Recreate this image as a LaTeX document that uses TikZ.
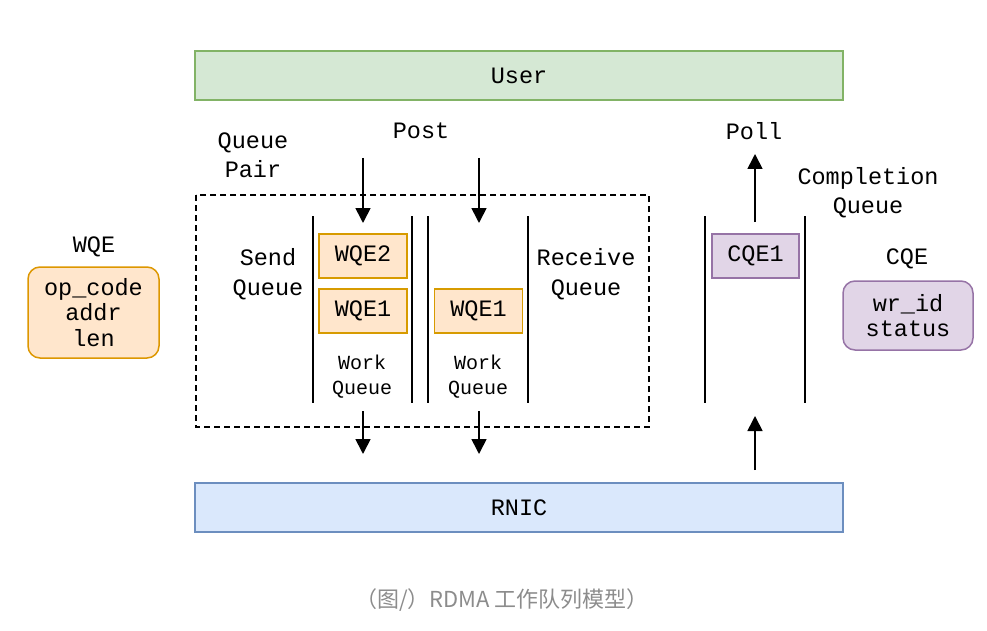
\documentclass[tikz,border=0pt]{standalone}
\usepackage{fontspec}
\setmainfont{Liberation Mono}
\newfontfamily\cjk{Noto Sans CJK SC}
\usetikzlibrary{arrows.meta}
\definecolor{ugreenf}{HTML}{D5E8D4}
\definecolor{ugreend}{HTML}{82B366}
\definecolor{ubluef}{HTML}{DAE8FC}
\definecolor{ublued}{HTML}{6C8EBF}
\definecolor{uorgf}{HTML}{FFE6CC}
\definecolor{uorgd}{HTML}{D79B00}
\definecolor{upurf}{HTML}{E1D5E7}
\definecolor{upurd}{HTML}{9673A6}
\definecolor{capgray}{HTML}{8C8C8C}
\newcommand\bigtxt{\fontsize{23.5}{29.5}\selectfont}
\newcommand\legtxt{\fontsize{23.5}{25.5}\selectfont}
\newcommand\smalltxt{\fontsize{20}{25}\selectfont}
\tikzset{
  bar/.style={draw, line width=1.5pt, minimum width=648pt, minimum height=49pt, inner sep=0pt, font=\bigtxt},
  wqebox/.style={draw=uorgd, fill=uorgf, line width=1.5pt, minimum width=88pt, minimum height=44pt, inner sep=0pt, font=\bigtxt},
  cqebox/.style={draw=upurd, fill=upurf, line width=1.5pt, minimum width=87pt, minimum height=44pt, inner sep=0pt, font=\bigtxt},
  lbl/.style={align=center, inner sep=0pt, font=\bigtxt},
  slbl/.style={align=center, inner sep=0pt, font=\smalltxt},
  qline/.style={line width=1.7pt},
  arr/.style={line width=1.7pt, -{Triangle[width=15pt,length=15pt]}},
  legend/.style={rounded corners=12pt, line width=1.5pt, align=center, inner sep=0pt, font=\legtxt},
}
\begin{document}
\begin{tikzpicture}[x=1pt,y=-1pt]
\useasboundingbox (0,0) rectangle (987,631);
% bars
\node[bar, draw=ugreend, fill=ugreenf] (user) at (519,75.5) {User};
\node[bar, draw=ublued, fill=ubluef] (rnic) at (519,507.5) {RNIC};
% queue pair dashed box
\draw[line width=1.5pt, dash pattern=on 6pt off 4pt] (196,195) rectangle (649,427);
% queue walls
\draw[qline] (313,216) -- (313,403);
\draw[qline] (412,216) -- (412,403);
\draw[qline] (428,216) -- (428,403);
\draw[qline] (528,216) -- (528,403);
\draw[qline] (705,216) -- (705,403);
\draw[qline] (805,216) -- (805,403);
% elements
\node[wqebox] (wqe2) at (363,256) {WQE2};
\node[wqebox] (wqe1s) at (363,311) {WQE1};
\node[wqebox] (wqe1r) at (478.5,311) {WQE1};
\node[cqebox] (cqe1) at (755.5,256) {CQE1};
% labels
\node[lbl] (qp) at (253,155.5) {Queue\\Pair};
\node[lbl] (post) at (421,131) {Post};
\node[lbl] (poll) at (754,131) {Poll};
\node[lbl] (cq) at (868,192.5) {Completion\\Queue};
\node[lbl] (sq) at (268,274) {Send\\Queue};
\node[lbl] (rq) at (586,274) {Receive\\Queue};
\node[slbl] (wq1) at (362,376.5) {Work\\Queue};
\node[slbl] (wq2) at (478,376.5) {Work\\Queue};
% legends
\node[lbl] (wqet) at (94,247) {WQE};
\node[legend, draw=uorgd!85!orange, fill=uorgf, minimum width=131pt, minimum height=91pt] (wqel) at (93.5,312.5) {op\_code\\addr\\len};
\node[lbl] (cqet) at (907,259) {CQE};
\node[legend, draw=upurd, fill=upurf, minimum width=130pt, minimum height=69pt] (cqel) at (908,315.5) {wr\_id\\status};
% arrows
\coordinate (p1s) at (363,158); \coordinate (p1e) at (363,223);
\coordinate (p2s) at (479,158); \coordinate (p2e) at (479,223);
\coordinate (d1s) at (363,411); \coordinate (d1e) at (363,454);
\coordinate (d2s) at (479,411); \coordinate (d2e) at (479,454);
\coordinate (c1s) at (755,470); \coordinate (c1e) at (755,416);
\coordinate (c2s) at (755,222); \coordinate (c2e) at (755,154);
\draw[arr] (p1s) -- (p1e);
\draw[arr] (p2s) -- (p2e);
\draw[arr] (d1s) -- (d1e);
\draw[arr] (d2s) -- (d2e);
\draw[arr] (c1s) -- (c1e);
\draw[arr] (c2s) -- (c2e);
% caption
\node[inner sep=0pt, text=capgray, font={\cjk\fontsize{22}{22}\selectfont}] (cap) at (502,600) {（图/）RDMA 工作队列模型）};
\end{tikzpicture}
\end{document}
